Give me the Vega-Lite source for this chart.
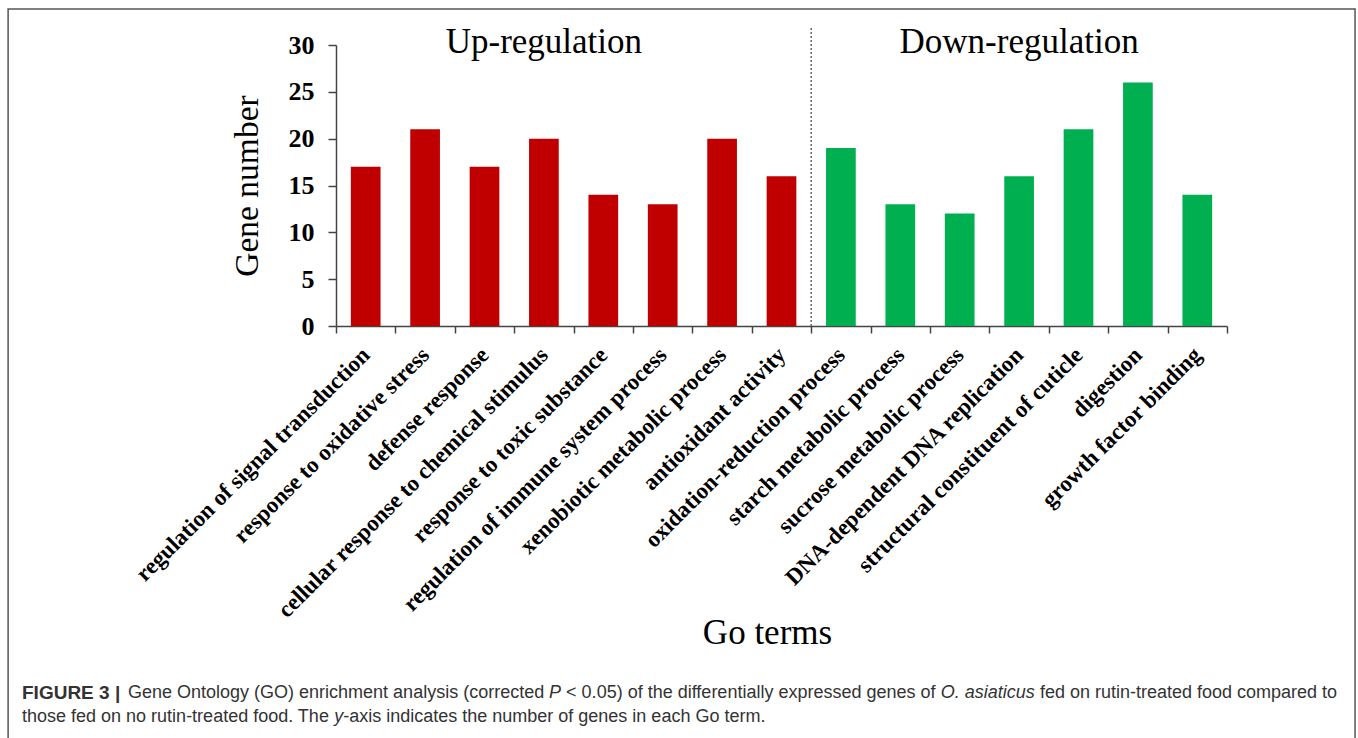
{
  "$schema": "https://vega.github.io/schema/vega-lite/v6.json",
  "autosize": {"type": "none"},
  "width": 891,
  "height": 281,
  "padding": {"left": 336, "top": 45, "right": 131, "bottom": 412},
  "background": "white",
  "config": {"view": {"stroke": null}, "font": "Liberation Serif"},
  "datasets": {
    "go": [
      {"term": "regulation of signal transduction", "group": "Up", "genes": 17},
      {"term": "response to oxidative stress", "group": "Up", "genes": 21},
      {"term": "defense response", "group": "Up", "genes": 17},
      {"term": "cellular response to chemical stimulus", "group": "Up", "genes": 20},
      {"term": "response to toxic substance", "group": "Up", "genes": 14},
      {"term": "regulation of immune system process", "group": "Up", "genes": 13},
      {"term": "xenobiotic metabolic process", "group": "Up", "genes": 20},
      {"term": "antioxidant activity", "group": "Up", "genes": 16},
      {"term": "oxidation-reduction process", "group": "Down", "genes": 19},
      {"term": "starch metabolic process", "group": "Down", "genes": 13},
      {"term": "sucrose metabolic process", "group": "Down", "genes": 12},
      {"term": "DNA-dependent DNA replication", "group": "Down", "genes": 16},
      {"term": "structural constituent of cuticle", "group": "Down", "genes": 21},
      {"term": "digestion", "group": "Down", "genes": 26},
      {"term": "growth factor binding", "group": "Down", "genes": 14}
    ],
    "groups": [
      {"label": "Up-regulation", "term": "cellular response to chemical stimulus"},
      {"label": "Down-regulation", "term": "DNA-dependent DNA replication"}
    ],
    "divider": [
      {"term": "oxidation-reduction process", "from": 0, "to": 32}
    ],
    "caption": [
      {"id": "a", "part": "FIGURE 3 |"},
      {"id": "b", "part": "Gene Ontology (GO) enrichment analysis (corrected"},
      {"id": "c", "part": "P"},
      {"id": "d", "part": "< 0.05) of the differentially expressed genes of"},
      {"id": "e", "part": "O. asiaticus"},
      {"id": "f", "part": "fed on rutin-treated food compared to"},
      {"id": "g", "part": "those fed on no rutin-treated food. The"},
      {"id": "h", "part": "y"},
      {"id": "i", "part": "-axis indicates the number of genes in each Go term."}
    ]
  },
  "layer": [
    {
      "layer": [
        {
          "data": {"name": "go"},
          "mark": {"type": "bar", "width": {"band": 0.5}},
          "encoding": {
            "x": {
              "field": "term",
              "type": "nominal",
              "sort": null,
              "scale": {
                "domain": [
                  "regulation of signal transduction",
                  "response to oxidative stress",
                  "defense response",
                  "cellular response to chemical stimulus",
                  "response to toxic substance",
                  "regulation of immune system process",
                  "xenobiotic metabolic process",
                  "antioxidant activity",
                  "oxidation-reduction process",
                  "starch metabolic process",
                  "sucrose metabolic process",
                  "DNA-dependent DNA replication",
                  "structural constituent of cuticle",
                  "digestion",
                  "growth factor binding"
                ],
                "paddingInner": 0,
                "paddingOuter": 0
              },
              "axis": {
                "title": "Go terms",
                "titleFont": "Liberation Serif",
                "titleFontSize": 35,
                "titleFontWeight": "normal",
                "titleColor": "#000000",
                "titleX": 431,
                "titleY": 306,
                "titleBaseline": "middle",
                "titleAlign": "center",
                "tickBand": "extent",
                "domainColor": "#444444",
                "domainWidth": 1.5,
                "tickColor": "#444444",
                "tickWidth": 1.5,
                "tickSize": 7,
                "labelAngle": -45,
                "labelAlign": "right",
                "labelBaseline": "middle",
                "labelFont": "Liberation Serif",
                "labelFontWeight": "bold",
                "labelFontSize": 23,
                "labelColor": "#000000",
                "labelPadding": 18,
                "labelLimit": 0,
                "labelOverlap": false
              }
            },
            "y": {
              "field": "genes",
              "type": "quantitative",
              "scale": {"domain": [0, 30], "nice": false},
              "axis": {
                "title": "Gene number",
                "titleFont": "Liberation Serif",
                "titleFontSize": 33.5,
                "titleFontWeight": "normal",
                "titleColor": "#000000",
                "titleX": -89,
                "titleY": 140.5,
                "titleAngle": -90,
                "titleBaseline": "middle",
                "titleAlign": "center",
                "values": [0, 5, 10, 15, 20, 25, 30],
                "grid": false,
                "domainColor": "#444444",
                "domainWidth": 1.5,
                "tickColor": "#444444",
                "tickWidth": 1.5,
                "tickSize": 8,
                "labelFont": "Liberation Serif",
                "labelFontWeight": "bold",
                "labelFontSize": 26,
                "labelColor": "#000000",
                "labelPadding": 14
              }
            },
            "color": {
              "field": "group",
              "type": "nominal",
              "scale": {"domain": ["Up", "Down"], "range": ["#C00000", "#00B050"]},
              "legend": null
            }
          }
        },
        {
          "data": {"name": "divider"},
          "mark": {"type": "rule", "color": "#666666", "strokeWidth": 1.5, "strokeDash": [2, 2]},
          "encoding": {
            "x": {"field": "term", "type": "nominal", "sort": null, "bandPosition": 0},
            "y": {"field": "from", "type": "quantitative", "scale": {"domain": [0, 30], "nice": false}},
            "y2": {"field": "to"}
          }
        },
        {
          "data": {"name": "groups"},
          "mark": {"type": "text", "font": "Liberation Serif", "fontSize": 35, "color": "#000000", "baseline": "alphabetic", "align": "center"},
          "encoding": {
            "x": {"field": "term", "type": "nominal", "sort": null},
            "y": {"datum": 29.15, "type": "quantitative", "scale": {"domain": [0, 30], "nice": false}},
            "text": {"field": "label"}
          }
        }
      ]
    },
    {
      "layer": [
        {
          "data": {"values": [{"x0": -0.368, "x1": 1.1437, "y0": 33.84, "y1": -45}]},
          "mark": {"type": "rect", "fill": null, "stroke": "#555555", "strokeWidth": 1.5},
          "encoding": {
            "x": {"field": "x0", "type": "quantitative", "scale": {"domain": [0, 1], "nice": false, "zero": false}, "axis": null},
            "x2": {"field": "x1"},
            "y": {"field": "y0", "type": "quantitative", "scale": {"domain": [0, 30], "nice": false}},
            "y2": {"field": "y1"}
          }
        },
        {
          "data": {"name": "caption"},
          "transform": [{"filter": "datum.id == 'a'"}],
          "mark": {"type": "text", "font": "Liberation Sans", "fontWeight": "bold", "fontSize": 19, "color": "#333333", "align": "left", "baseline": "middle"},
          "encoding": {
            "x": {"datum": -0.3524, "type": "quantitative"},
            "y": {"datum": -39.18, "type": "quantitative"},
            "text": {"field": "part"}
          }
        },
        {
          "data": {"name": "caption"},
          "transform": [{"filter": "datum.id == 'b'"}],
          "mark": {"type": "text", "font": "Liberation Sans", "fontSize": 18, "color": "#333333", "align": "left", "baseline": "middle"},
          "encoding": {
            "x": {"datum": -0.23345, "type": "quantitative"},
            "y": {"datum": -39.18, "type": "quantitative"},
            "text": {"field": "part"}
          }
        },
        {
          "data": {"name": "caption"},
          "transform": [{"filter": "datum.id == 'c'"}],
          "mark": {"type": "text", "font": "Liberation Sans", "fontStyle": "italic", "fontSize": 18, "color": "#333333", "align": "left", "baseline": "middle"},
          "encoding": {
            "x": {"datum": 0.23917, "type": "quantitative"},
            "y": {"datum": -39.18, "type": "quantitative"},
            "text": {"field": "part"}
          }
        },
        {
          "data": {"name": "caption"},
          "transform": [{"filter": "datum.id == 'd'"}],
          "mark": {"type": "text", "font": "Liberation Sans", "fontSize": 18, "color": "#333333", "align": "left", "baseline": "middle"},
          "encoding": {
            "x": {"datum": 0.25825, "type": "quantitative"},
            "y": {"datum": -39.18, "type": "quantitative"},
            "text": {"field": "part"}
          }
        },
        {
          "data": {"name": "caption"},
          "transform": [{"filter": "datum.id == 'e'"}],
          "mark": {"type": "text", "font": "Liberation Sans", "fontStyle": "italic", "fontSize": 18, "color": "#333333", "align": "left", "baseline": "middle"},
          "encoding": {
            "x": {"datum": 0.67879, "type": "quantitative"},
            "y": {"datum": -39.18, "type": "quantitative"},
            "text": {"field": "part"}
          }
        },
        {
          "data": {"name": "caption"},
          "transform": [{"filter": "datum.id == 'f'"}],
          "mark": {"type": "text", "font": "Liberation Sans", "fontSize": 18, "color": "#333333", "align": "left", "baseline": "middle"},
          "encoding": {
            "x": {"datum": 0.79001, "type": "quantitative"},
            "y": {"datum": -39.18, "type": "quantitative"},
            "text": {"field": "part"}
          }
        },
        {
          "data": {"name": "caption"},
          "transform": [{"filter": "datum.id == 'g'"}],
          "mark": {"type": "text", "font": "Liberation Sans", "fontSize": 18, "color": "#333333", "align": "left", "baseline": "middle"},
          "encoding": {
            "x": {"datum": -0.3524, "type": "quantitative"},
            "y": {"datum": -41.76, "type": "quantitative"},
            "text": {"field": "part"}
          }
        },
        {
          "data": {"name": "caption"},
          "transform": [{"filter": "datum.id == 'h'"}],
          "mark": {"type": "text", "font": "Liberation Sans", "fontStyle": "italic", "fontSize": 18, "color": "#333333", "align": "left", "baseline": "middle"},
          "encoding": {
            "x": {"datum": -0.00202, "type": "quantitative"},
            "y": {"datum": -41.76, "type": "quantitative"},
            "text": {"field": "part"}
          }
        },
        {
          "data": {"name": "caption"},
          "transform": [{"filter": "datum.id == 'i'"}],
          "mark": {"type": "text", "font": "Liberation Sans", "fontSize": 18, "color": "#333333", "align": "left", "baseline": "middle"},
          "encoding": {
            "x": {"datum": 0.00808, "type": "quantitative"},
            "y": {"datum": -41.76, "type": "quantitative"},
            "text": {"field": "part"}
          }
        }
      ]
    }
  ],
  "resolve": {"scale": {"x": "independent"}}
}
